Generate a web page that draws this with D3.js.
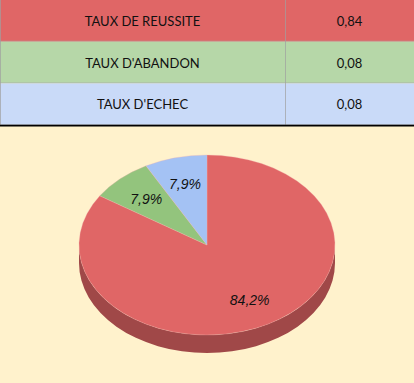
<!DOCTYPE html>
<html><head><meta charset="utf-8">
<script src="https://cdn.jsdelivr.net/npm/d3@7"></script>
<style>html,body{margin:0;padding:0;background:#FFF2CC;overflow:hidden}</style>
</head><body>
<script>
const categories = ["TAUX DE REUSSITE", "TAUX D'ABANDON", "TAUX D'ECHEC"];
const values = [0.842, 0.079, 0.079];
const tableColors = ["#E06666", "#B6D7A8", "#C9DAF8"];
const sliceColors = ["#E06666", "#93C47D", "#A4C2F4"];
const sideColors = ["#A04848", "#6A9A55", "#7A98CC"];

const W = 414, H = 383;
const svg = d3.select("body").append("svg").attr("width", W).attr("height", H);
svg.append("rect").attr("width", W).attr("height", H).attr("fill", "#FFF2CC");

// ---- table ----
const rowH = 41.7, col1 = 285;
const yBand = d3.scaleBand().domain(categories).range([0, rowH * 3]).padding(0);
const fmt = v => d3.format(".2f")(v).replace(".", ",");
const rows = svg.append("g").selectAll("g").data(categories).join("g")
  .attr("transform", d => `translate(0,${yBand(d)})`);
rows.append("rect").attr("width", W).attr("height", yBand.bandwidth())
  .attr("fill", (d, i) => tableColors[i]);
rows.append("line").attr("x1", 0).attr("x2", W).attr("y1", yBand.bandwidth() - 0.5).attr("y2", yBand.bandwidth() - 0.5)
  .attr("stroke", "#A9A9A9").attr("stroke-opacity", 0.6);
rows.append("text").attr("x", col1 / 2).attr("y", yBand.bandwidth() / 2)
  .attr("text-anchor", "middle").attr("dominant-baseline", "central")
  .attr("font-family", "Lato, 'Liberation Sans', sans-serif").attr("font-size", 13).attr("fill", "#111")
  .text(d => d);
rows.append("text").attr("x", (col1 + W) / 2).attr("y", yBand.bandwidth() / 2)
  .attr("text-anchor", "middle").attr("dominant-baseline", "central")
  .attr("font-family", "Lato, 'Liberation Sans', sans-serif").attr("font-size", 13).attr("fill", "#111")
  .text((d, i) => fmt(values[i]));
svg.append("line").attr("x1", col1 + 0.5).attr("x2", col1 + 0.5).attr("y1", 0).attr("y2", rowH * 3)
  .attr("stroke", "#A0A0A0").attr("stroke-opacity", 0.7);
svg.append("line").attr("x1", 0.5).attr("x2", 0.5).attr("y1", 0).attr("y2", rowH * 3)
  .attr("stroke", "#A0A0A0").attr("stroke-opacity", 0.7);
svg.append("line").attr("x1", 0).attr("x2", W).attr("y1", rowH * 3 + 0.5).attr("y2", rowH * 3 + 0.5)
  .attr("stroke", "#000").attr("stroke-width", 1.6);

// ---- 3D pie ----
const cx = 207, cy = 245, rx = 128, ry = 90, depth = 18;
const pie = d3.pie().sort(null).value(d => d);
const arcs = pie(values);
const total = d3.sum(values);
const px = a => cx + rx * Math.sin(a);
const py = a => cy - ry * Math.cos(a);

// side walls (visible front half: angles between PI/2 and 3PI/2)
const sideG = svg.append("g");
arcs.forEach((a, i) => {
  const s = Math.max(a.startAngle, Math.PI / 2), e = Math.min(a.endAngle, 3 * Math.PI / 2);
  if (e <= s) return;
  const large = (e - s) > Math.PI ? 1 : 0;
  const p = `M${px(s)},${py(s)} A${rx},${ry} 0 ${large} 1 ${px(e)},${py(e)} L${px(e)},${py(e) + depth} A${rx},${ry} 0 ${large} 0 ${px(s)},${py(s) + depth} Z`;
  sideG.append("path").attr("d", p).attr("fill", sideColors[i]);
});

// top face via d3.arc squashed vertically
const arcGen = d3.arc().innerRadius(0).outerRadius(rx);
const topFace = svg.append("g").attr("transform", `translate(${cx},${cy}) scale(1,${ry / rx})`);
topFace.selectAll("path").data(arcs).join("path")
  .attr("d", arcGen).attr("fill", (d, i) => sliceColors[i])
  .attr("stroke", "#F3B0B0").attr("stroke-width", 0.6).attr("stroke-opacity", 0.6);

// labels
const labelR = 0.7;
svg.append("g").selectAll("text").data(arcs).join("text")
  .attr("x", d => { const m = (d.startAngle + d.endAngle) / 2; return cx + rx * labelR * Math.sin(m); })
  .attr("y", d => { const m = (d.startAngle + d.endAngle) / 2; return cy - ry * labelR * Math.cos(m); })
  .attr("text-anchor", "middle").attr("dominant-baseline", "central")
  .attr("font-family", "'Liberation Sans', Arial, sans-serif").attr("font-style", "italic")
  .attr("font-size", 14).attr("fill", "#111")
  .text(d => d3.format(".1f")(d.value / total * 100).replace(".", ",") + "%");
</script>
</body></html>
